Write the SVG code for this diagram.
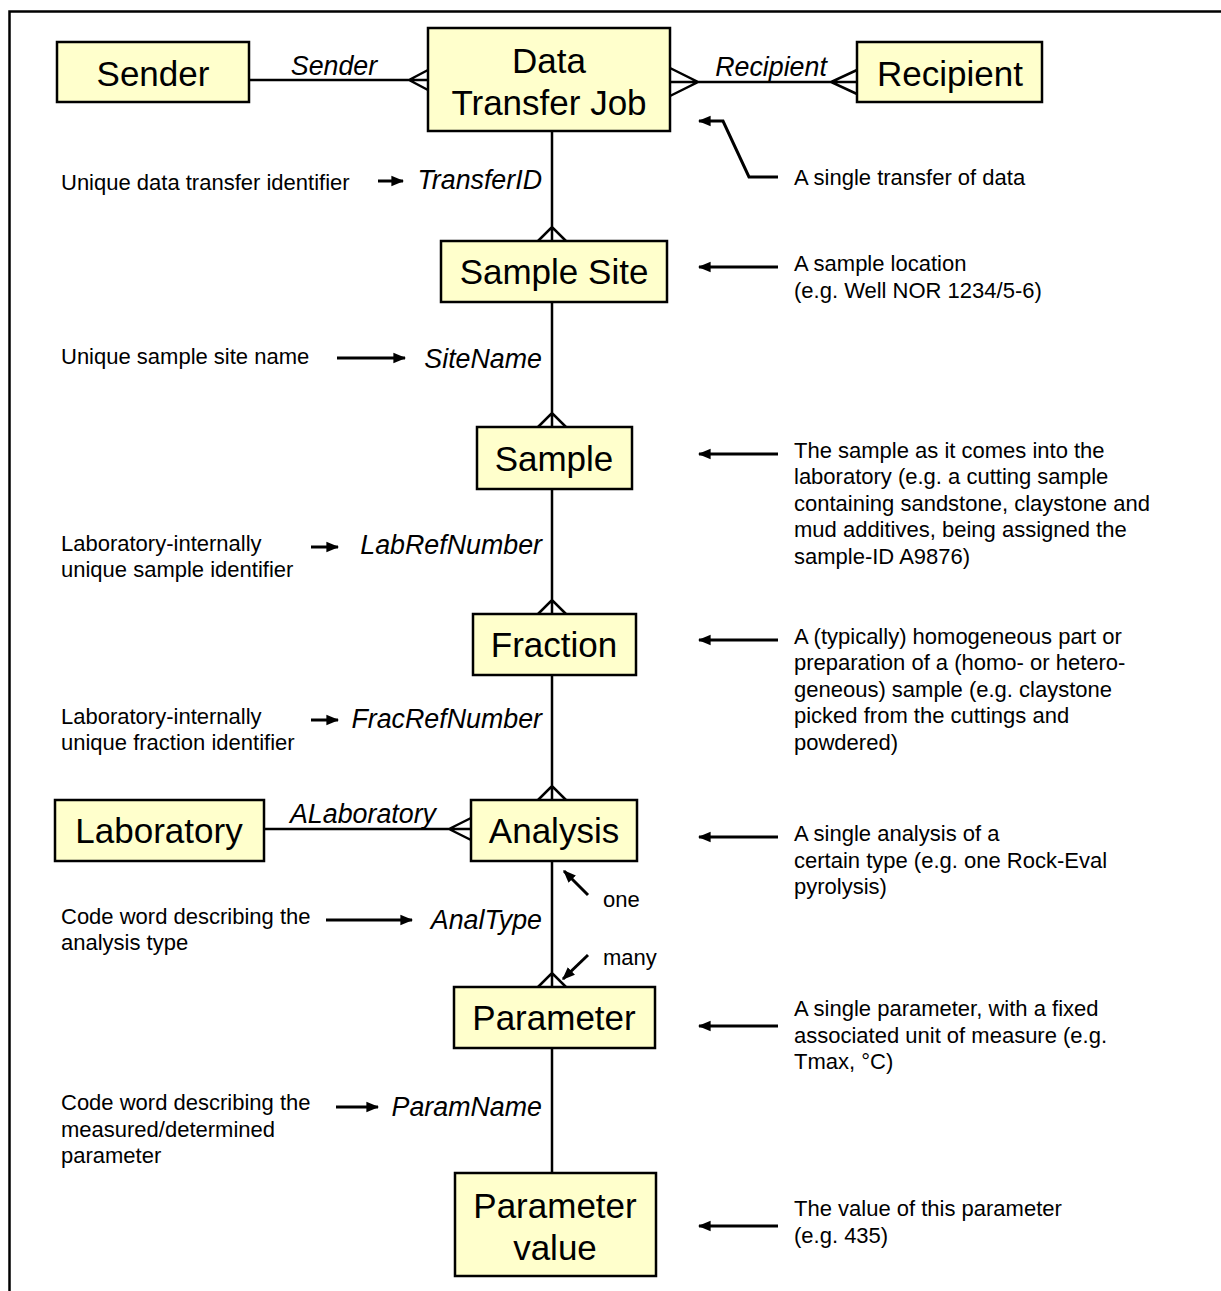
<svg xmlns="http://www.w3.org/2000/svg" width="1221" height="1291" viewBox="0 0 1221 1291">
<defs>
<style>
.box{fill:#ffffcc;stroke:#000;stroke-width:2.5}
.bt{font-family:"Liberation Sans",Arial,sans-serif;font-size:35px;text-anchor:middle;fill:#000}
.it{font-family:"Liberation Sans",Arial,sans-serif;font-size:26.8px;font-style:italic;fill:#000}
.tx{font-family:"Liberation Sans",Arial,sans-serif;font-size:22px;fill:#000}
.ln{stroke:#000;stroke-width:2.5;fill:none}
.ar{stroke:#000;stroke-width:3;fill:none}
</style>
<marker id="ah" viewBox="0 0 10 10" refX="9" refY="5" markerWidth="4.3" markerHeight="4.3" orient="auto-start-reverse" markerUnits="strokeWidth">
<path d="M0,1 L10,5 L0,9 Z" fill="#000"/>
</marker>
</defs>
<rect width="1221" height="1291" fill="#fff"/>
<path class="ln" d="M9.5,1291 V11.5 H1221"/>

<g id="connectors">
<path class="ln" d="M249,80 H428 M409,80 L428,70 M409,80 L428,90"/>
<path class="ln" d="M670,82 H857 M670,68 L698,82 L670,96 M857,70 L831,82 L857,94"/>
<path class="ln" d="M552,131 V241 M538,241 L552,227 L566,241"/>
<path class="ln" d="M552,302 V427 M538,427 L552,413 L566,427"/>
<path class="ln" d="M552,489 V614 M538,614 L552,600 L566,614"/>
<path class="ln" d="M552,675 V800 M538,800 L552,786 L566,800"/>
<path class="ln" d="M264,829 H471 M449,829 L471,818 M449,829 L471,840"/>
<path class="ln" d="M552,861 V987 M538,987 L552,973 L566,987"/>
<path class="ln" d="M552,1048 V1173"/>
</g>

<g id="node-sender"><rect class="box" x="57" y="42" width="192" height="60"/><text class="bt" x="153" y="86">Sender</text></g>
<g id="node-dtj"><rect class="box" x="428" y="28" width="242" height="103"/><text class="bt" x="549" y="73">Data</text><text class="bt" x="549" y="115">Transfer Job</text></g>
<g id="node-recipient"><rect class="box" x="857" y="42" width="185" height="60"/><text class="bt" x="950" y="86">Recipient</text></g>
<g id="node-site"><rect class="box" x="441" y="241" width="226" height="61"/><text class="bt" x="554" y="284">Sample Site</text></g>
<g id="node-sample"><rect class="box" x="477" y="427" width="155" height="62"/><text class="bt" x="554" y="471">Sample</text></g>
<g id="node-fraction"><rect class="box" x="473" y="614" width="163" height="61"/><text class="bt" x="554" y="657">Fraction</text></g>
<g id="node-lab"><rect class="box" x="55" y="800" width="209" height="61"/><text class="bt" x="159" y="843">Laboratory</text></g>
<g id="node-analysis"><rect class="box" x="471" y="800" width="166" height="61"/><text class="bt" x="554" y="843">Analysis</text></g>
<g id="node-param"><rect class="box" x="454" y="987" width="201" height="61"/><text class="bt" x="554" y="1030">Parameter</text></g>
<g id="node-value"><rect class="box" x="455" y="1173" width="201" height="103"/><text class="bt" x="555" y="1218">Parameter</text><text class="bt" x="555" y="1260">value</text></g>

<g id="labels">
<text class="it" x="334" y="75" text-anchor="middle">Sender</text>
<text class="it" x="771" y="76" text-anchor="middle">Recipient</text>
<text class="it" x="363" y="823" text-anchor="middle">ALaboratory</text>
<text class="it" x="542" y="189" text-anchor="end">TransferID</text>
<text class="it" x="542" y="368" text-anchor="end">SiteName</text>
<text class="it" x="542" y="554" text-anchor="end">LabRefNumber</text>
<text class="it" x="542" y="728" text-anchor="end">FracRefNumber</text>
<text class="it" x="542" y="929" text-anchor="end">AnalType</text>
<text class="it" x="542" y="1116" text-anchor="end">ParamName</text>

<text class="tx" x="61" y="190">Unique data transfer identifier</text>
<text class="tx" x="61" y="364">Unique sample site name</text>
<text class="tx" x="61" y="551">Laboratory-internally</text>
<text class="tx" x="61" y="577">unique sample identifier</text>
<text class="tx" x="61" y="724">Laboratory-internally</text>
<text class="tx" x="61" y="750">unique fraction identifier</text>
<text class="tx" x="61" y="924">Code word describing the</text>
<text class="tx" x="61" y="950">analysis type</text>
<text class="tx" x="61" y="1110">Code word describing the</text>
<text class="tx" x="61" y="1137">measured/determined</text>
<text class="tx" x="61" y="1163">parameter</text>

<text class="tx" x="794" y="185">A single transfer of data</text>
<text class="tx" x="794" y="271">A sample location</text>
<text class="tx" x="794" y="298">(e.g. Well NOR 1234/5-6)</text>
<text class="tx" x="794" y="458">The sample as it comes into the</text>
<text class="tx" x="794" y="484">laboratory (e.g. a cutting sample</text>
<text class="tx" x="794" y="511">containing sandstone, claystone and</text>
<text class="tx" x="794" y="537">mud additives, being assigned the</text>
<text class="tx" x="794" y="564">sample-ID A9876)</text>
<text class="tx" x="794" y="644">A (typically) homogeneous part or</text>
<text class="tx" x="794" y="670">preparation of a (homo- or hetero-</text>
<text class="tx" x="794" y="697">geneous) sample (e.g. claystone</text>
<text class="tx" x="794" y="723">picked from the cuttings and</text>
<text class="tx" x="794" y="750">powdered)</text>
<text class="tx" x="794" y="841">A single analysis of a</text>
<text class="tx" x="794" y="868">certain type (e.g. one Rock-Eval</text>
<text class="tx" x="794" y="894">pyrolysis)</text>
<text class="tx" x="794" y="1016">A single parameter, with a fixed</text>
<text class="tx" x="794" y="1043">associated unit of measure (e.g.</text>
<text class="tx" x="794" y="1069">Tmax, °C)</text>
<text class="tx" x="794" y="1216">The value of this parameter</text>
<text class="tx" x="794" y="1243">(e.g. 435)</text>
<text class="tx" x="603" y="907">one</text>
<text class="tx" x="603" y="965">many</text>
</g>

<g id="arrows">
<path class="ar" d="M378,181 H403" marker-end="url(#ah)"/>
<path class="ar" d="M337,358 H405" marker-end="url(#ah)"/>
<path class="ar" d="M311,547 H338" marker-end="url(#ah)"/>
<path class="ar" d="M311,720 H338" marker-end="url(#ah)"/>
<path class="ar" d="M326,920 H412" marker-end="url(#ah)"/>
<path class="ar" d="M336,1107 H378" marker-end="url(#ah)"/>
<path class="ar" d="M778,177 H749 L723,121 H699" marker-end="url(#ah)"/>
<path class="ar" d="M778,267 H699" marker-end="url(#ah)"/>
<path class="ar" d="M778,454 H699" marker-end="url(#ah)"/>
<path class="ar" d="M778,640 H699" marker-end="url(#ah)"/>
<path class="ar" d="M778,837 H699" marker-end="url(#ah)"/>
<path class="ar" d="M778,1026 H699" marker-end="url(#ah)"/>
<path class="ar" d="M778,1226 H699" marker-end="url(#ah)"/>
<path class="ar" d="M588,895 L564,871" marker-end="url(#ah)"/>
<path class="ar" d="M588,955 L563,979" marker-end="url(#ah)"/>
</g>
</svg>
